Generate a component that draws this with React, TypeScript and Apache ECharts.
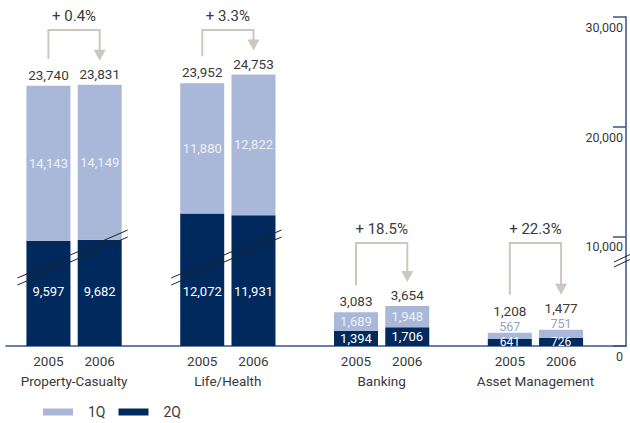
import React, { useEffect, useRef } from 'react';
import * as echarts from 'echarts';

// ---- data ----
const groups = ['Property-Casualty', 'Life/Health', 'Banking', 'Asset Management'];
const years = ['2005', '2006'];
const q1Values = [14143, 14149, 11880, 12822, 1689, 1948, 567, 751];
const q2Values = [9597, 9682, 12072, 11931, 1394, 1706, 641, 726];
const changeLabels = ['+ 0.4%', '+ 3.3%', '+ 18.5%', '+ 22.3%'];
const yMin = 0;
const yMax = 30000;
const yInterval = 10000;

// ---- layout / style ----
const FONT = "Roboto, 'Liberation Sans', sans-serif";
const TEXT = '#3a3a3a';
const NAVY = '#002a5e';
const LIGHT = '#a9b7d8';
const AXIS = '#34558a';
const BRACKET = '#ccc8c0';
const GRID_TOP = 17;
const GRID_BOTTOM = 77;
const PLOT_H = 423 - GRID_TOP - GRID_BOTTOM;
const bracketTopPx = [30, 30, 243, 243];
const brokenGroups = [0, 1];

const fmt = (v: number) => v.toLocaleString('en-US');

export default function App() {
  const ref = useRef<HTMLDivElement>(null);

  useEffect(() => {
    const el = ref.current!;
    const chart = echarts.init(el, null, { renderer: 'svg' });

    const slotIds: string[] = [];
    const slotQ1: any[] = [];
    const slotQ2: any[] = [];
    const slotTot: any[] = [];
    const slotIndexOf: number[][] = [];
    const totalDist: number[] = [];
    const pxPerUnit = PLOT_H / (yMax - yMin);
    groups.forEach((g, gi) => {
      const idxs: number[] = [];
      const broken = brokenGroups.includes(gi);
      years.forEach((y, yi) => {
        const k = gi * 2 + yi;
        const a = q1Values[k];
        const b = q2Values[k];
        idxs.push(slotIds.length);
        slotIds.push(g + '|' + y);
        const smallA = a * pxPerUnit < 12;
        const smallB = b * pxPerUnit < 12;
        if (broken) {
          slotQ2.push({ value: b, label: { position: 'insideBottom', distance: 48 } });
        } else if (smallB) {
          slotQ2.push({ value: b, label: { fontSize: 12 } });
        } else {
          slotQ2.push(b);
        }
        slotQ1.push(
          smallA
            ? { value: a, label: { position: 'top', distance: 0, color: '#95a4cb', fontSize: 12.5 } }
            : a
        );
        const d = smallA ? 15 : 4;
        totalDist.push(d);
        slotTot.push({ value: 0, total: a + b, label: { distance: d } });
      });
      slotIndexOf.push(idxs);
      if (gi < groups.length - 1) {
        slotIds.push('gap' + gi);
        slotQ1.push(null);
        slotQ2.push(null);
        slotTot.push(null);
        totalDist.push(0);
      }
    });

    const groupSlots: string[] = [];
    for (let i = 0; i <= slotIds.length; i++) groupSlots.push('b' + i);
    const groupNameAt: Record<number, string> = {};
    groups.forEach((g, gi) => {
      groupNameAt[gi * 3 + 1] = g;
    });

    const option: any = {
      animation: false,
      textStyle: { fontFamily: FONT, color: TEXT },
      legend: {
        data: ['1Q', '2Q'],
        left: 43,
        top: 405,
        itemWidth: 30,
        itemHeight: 7,
        itemGap: 13,
        icon: 'rect',
        padding: 0,
        textStyle: {
          fontFamily: FONT,
          fontSize: 14,
          lineHeight: 14,
          color: TEXT,
          padding: [0, 0, 0, 10],
        },
      },
      grid: [
        { left: 22.8, right: 43.3, top: GRID_TOP, bottom: GRID_BOTTOM },
        { left: 6, right: 4, top: GRID_TOP, bottom: GRID_BOTTOM },
      ],
      xAxis: [
        {
          type: 'category',
          gridIndex: 0,
          data: slotIds,
          axisLine: { show: false },
          axisTick: { show: false },
          axisLabel: {
            interval: 0,
            margin: 8,
            fontSize: 13.5,
            color: TEXT,
            fontFamily: FONT,
            formatter: (v: string) => (v.startsWith('gap') ? '' : v.split('|')[1]),
          },
        },
        {
          type: 'category',
          gridIndex: 0,
          position: 'bottom',
          boundaryGap: false,
          data: groupSlots,
          axisLine: { show: false },
          axisTick: { show: false },
          axisLabel: {
            interval: 0,
            margin: 28,
            fontSize: 13.5,
            color: TEXT,
            fontFamily: FONT,
            formatter: (_v: string, i: number) => groupNameAt[i] || '',
          },
        },
        {
          type: 'category',
          gridIndex: 1,
          data: [''],
          axisLine: { show: true, lineStyle: { color: AXIS, width: 1.5 } },
          axisTick: { show: false },
          axisLabel: { show: false },
        },
      ],
      yAxis: [
        { type: 'value', gridIndex: 0, min: yMin, max: yMax, interval: yInterval, show: false },
        {
          type: 'value',
          gridIndex: 1,
          position: 'right',
          min: yMin,
          max: yMax,
          interval: yInterval,
          splitLine: { show: false },
          axisLine: { show: true, lineStyle: { color: AXIS, width: 1.5 } },
          axisTick: { show: true, inside: true, length: 13, lineStyle: { color: AXIS, width: 1.5 } },
          axisLabel: {
            inside: true,
            margin: 3,
            align: 'right',
            verticalAlign: 'top',
            padding: [4, 0, 0, 0],
            fontSize: 12.5,
            color: TEXT,
            fontFamily: FONT,
            formatter: (v: number) => fmt(v),
          },
        },
      ],
      series: [
        {
          name: '2Q',
          type: 'bar',
          stack: 'total',
          xAxisIndex: 0,
          yAxisIndex: 0,
          barWidth: 44,
          itemStyle: { color: NAVY },
          data: slotQ2,
          label: {
            show: true,
            position: 'inside',
            color: '#ffffff',
            fontSize: 13,
            fontFamily: FONT,
            formatter: (p: any) => fmt(p.value),
          },
        },
        {
          name: '1Q',
          type: 'bar',
          stack: 'total',
          xAxisIndex: 0,
          yAxisIndex: 0,
          barWidth: 44,
          itemStyle: { color: LIGHT },
          data: slotQ1,
          label: {
            show: true,
            position: 'inside',
            color: '#eef1f8',
            fontSize: 13,
            fontFamily: FONT,
            formatter: (p: any) => fmt(p.value),
          },
        },
        {
          name: 'total',
          type: 'bar',
          stack: 'total',
          xAxisIndex: 0,
          yAxisIndex: 0,
          barWidth: 44,
          itemStyle: { color: 'transparent' },
          data: slotTot,
          label: {
            show: true,
            position: 'top',
            color: TEXT,
            fontSize: 13.5,
            fontFamily: FONT,
            formatter: (p: any) => fmt(p.data.total),
          },
        },
      ],
    };

    chart.setOption(option);

    const toPx = (i: number, v: number) =>
      chart.convertToPixel({ xAxisIndex: 0, yAxisIndex: 0 }, [i, v]) as number[];

    const graphics: any[] = [];
    groups.forEach((_g, gi) => {
      const [i0, i1] = slotIndexOf[gi];
      const k0 = gi * 2;
      const k1 = gi * 2 + 1;
      const t0 = q1Values[k0] + q2Values[k0];
      const t1 = q1Values[k1] + q2Values[k1];
      const p0 = toPx(i0, t0);
      const p1 = toPx(i1, t1);
      const c0 = p0[1] - totalDist[i0] - 8;
      const c1 = p1[1] - totalDist[i1] - 8;
      const xL = p0[0];
      const xR = p1[0];
      const top = bracketTopPx[gi];
      const tip = c1 - 12;
      graphics.push({
        type: 'polyline',
        z: 100,
        shape: { points: [[xL, c0 - 15], [xL, top], [xR, top], [xR, tip - 9]] },
        style: { stroke: BRACKET, lineWidth: 2, fill: null },
      });
      graphics.push({
        type: 'polygon',
        z: 100,
        shape: { points: [[xR - 6, tip - 11], [xR + 6, tip - 11], [xR, tip]] },
        style: { fill: BRACKET },
      });
      graphics.push({
        type: 'text',
        z: 100,
        x: (xL + xR) / 2,
        y: top - 14,
        style: {
          text: changeLabels[gi],
          align: 'center',
          verticalAlign: 'middle',
          fontSize: 15,
          fontFamily: FONT,
          fill: TEXT,
        },
      });
      if (brokenGroups.includes(gi)) {
        const xa = xL - 31;
        const xb = xR + 28;
        [278, 285].forEach((ya) => {
          graphics.push({
            type: 'line',
            z: 100,
            shape: { x1: xa, y1: ya, x2: xb, y2: ya - 48 },
            style: { stroke: '#222', lineWidth: 1 },
          });
        });
      }
    });
    [262, 267].forEach((ya) => {
      graphics.push({
        type: 'line',
        z: 100,
        shape: { x1: 614, y1: ya, x2: 631, y2: ya - 8 },
        style: { stroke: '#222', lineWidth: 1 },
      });
    });

    chart.setOption({ graphic: graphics });

    return () => chart.dispose();
  }, []);

  return (
    <div
      ref={ref}
      style={{ position: 'fixed', left: 0, top: 0, width: 630, height: 423, background: '#fff' }}
    />
  );
}
